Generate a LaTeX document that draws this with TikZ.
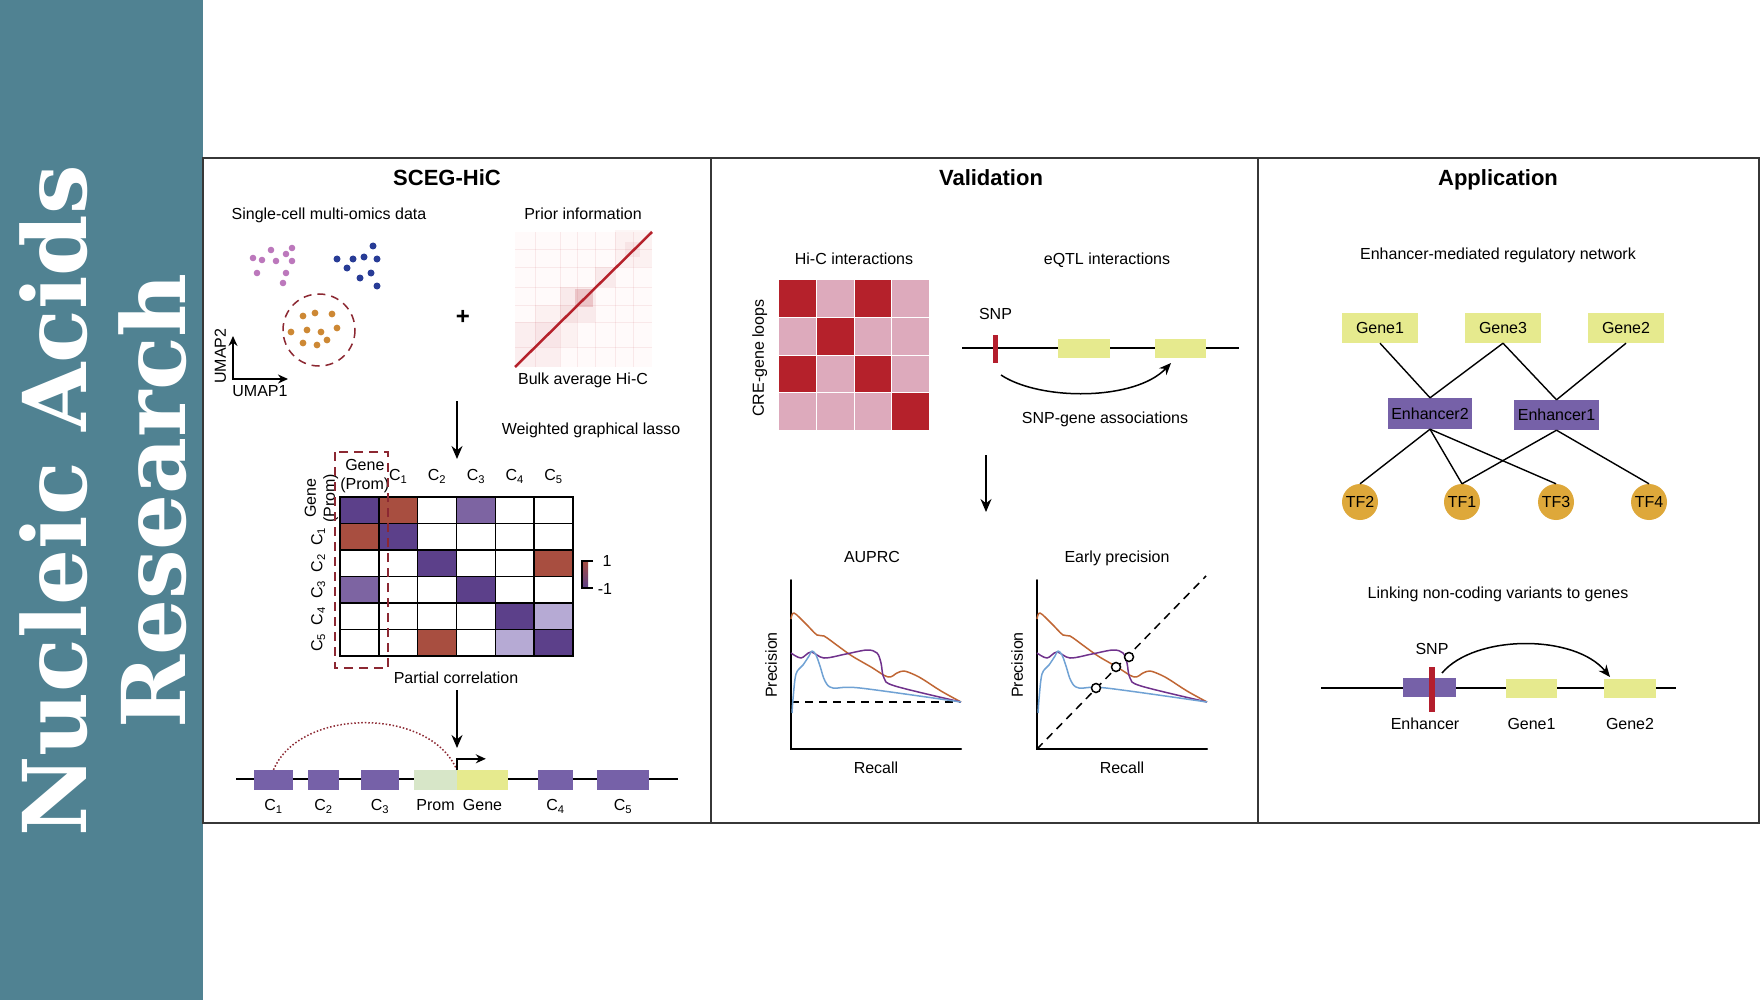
\documentclass[tikz,border=0pt]{standalone}
\usepackage{fontspec}
\setmainfont{Liberation Sans}
\newfontfamily\journalfont{DejaVu Serif}
\usetikzlibrary{arrows.meta,positioning}

\definecolor{sidebar}{RGB}{80,130,146}
\definecolor{framegray}{RGB}{55,55,55}
\definecolor{darkpurple}{RGB}{92,64,138}
\definecolor{midpurple}{RGB}{125,100,162}
\definecolor{lavender}{RGB}{182,170,212}
\definecolor{brickred}{RGB}{168,78,64}
\definecolor{crepurple}{RGB}{118,97,168}
\definecolor{geneyellow}{RGB}{230,234,142}
\definecolor{promgreen}{RGB}{215,230,200}
\definecolor{hicred}{RGB}{181,33,43}
\definecolor{hicpink}{RGB}{221,170,188}
\definecolor{snpred}{RGB}{180,30,45}
\definecolor{tfgold}{RGB}{222,168,58}
\definecolor{dotpink}{RGB}{188,120,188}
\definecolor{dotblue}{RGB}{40,60,150}
\definecolor{dotorange}{RGB}{205,136,52}
\definecolor{circred}{RGB}{140,40,50}
\definecolor{curveorange}{RGB}{192,102,52}
\definecolor{curvepurple}{RGB}{112,50,140}
\definecolor{curveblue}{RGB}{112,162,212}

\tikzset{
  txt/.style={font=\fontsize{16}{19}\selectfont, inner sep=0pt},
  lbl/.style={txt, text height=11.5pt, text depth=0pt},
  ttl/.style={font=\fontsize{22}{26}\selectfont\bfseries, inner sep=0pt, text height=15.8pt, text depth=0pt},
  trk/.style={inner sep=0pt, minimum height=20pt},
  gnode/.style={lbl, fill=geneyellow, minimum width=76pt, minimum height=30pt},
  enode/.style={lbl, fill=crepurple, minimum width=84pt, minimum height=31pt},
  tfnode/.style={lbl, circle, fill=tfgold, minimum size=36pt},
  link/.style={line width=1.4pt},
  flow/.style={-{Stealth[length=13pt,width=11pt]}, line width=1.5pt},
  axis/.style={line width=2pt, line cap=round},
  prline/.style={line width=1.5pt, line join=round},
}

% the three precision-recall curves, drawn in plot coordinates
\newcommand{\prcurves}{%
  \draw[prline, curveorange] plot[smooth, tension=0.55] coordinates {(0,130) (3,136) (15,125) (26,114) (33,113) (47,103) (61,93) (80,82) (97,72) (106,76) (113,78) (124,74) (133,69) (150,58) (170,47)};
  \draw[prline, curvepurple] plot[smooth, tension=0.55] coordinates {(0,96) (10,91) (20,97) (33,91) (55,95) (76,99) (86,96) (90,86) (93,71) (104,63) (170,47)};
  \draw[prline, curveblue] plot[smooth, tension=0.55] coordinates {(1,36) (2,50) (5,75) (12,84) (18,93) (21,98) (25,94) (29,83) (34,68) (42,61) (69,61) (170,47)};
}

\begin{document}
\begin{tikzpicture}[x=1pt, y=-1pt]
        \useasboundingbox (0,0) rectangle (1760,1000);
        \fill[white] (0,0) rectangle (1760,1000);

        % journal sidebar
        \fill[sidebar] (0,0) rectangle (203,1000);
        \node[white, rotate=90, inner sep=0pt, font=\journalfont\bfseries\fontsize{88}{90}\selectfont] (nar1) at (54,501) {Nucleic Acids};
        \node[white, rotate=90, inner sep=0pt, font=\journalfont\bfseries\fontsize{88}{90}\selectfont] (nar2) at (153,501) {Research};

        % panel frame
        \draw[framegray, line width=2pt] (203,158) rectangle (1759,823);
        \draw[framegray, line width=2pt] (711,158) -- (711,823);
        \draw[framegray, line width=2pt] (1258,158) -- (1258,823);

        \node[ttl] (t1) at (447,178) {SCEG-HiC};
        \node[ttl] (t2) at (991,178) {Validation};
        \node[ttl] (t3) at (1498,178) {Application};

        %%%%% SCEG-HiC
        \node[lbl] (scdata) at (329,214) {Single-cell multi-omics data};
        \node[lbl] (prior) at (583,214) {Prior information};

        \foreach \p in {(253,258),(262,260),(271,250),(276,261),(286,254),(292,248),(292,261),(257,273),(286,273),(283,283)}
            \fill[dotpink] \p circle (3.3);
        \foreach \p in {(373,246),(337,259),(353,259),(364,257),(377,259),(347,268),(371,273),(360,278),(377,286)}
            \fill[dotblue] \p circle (3.5);
        \draw[circred, line width=1.5pt, dash pattern=on 8pt off 6pt] (319,330) circle (36);
        \foreach \p in {(303,316),(315,313),(332,314),(291,332),(307,330),(321,332),(337,328),(303,343),(317,345),(327,340)}
            \fill[dotorange] \p circle (3.4);

        \coordinate (umo) at (233,379);
        \coordinate (umy) at (233,336);
        \coordinate (umx) at (288,379);
        \draw[line width=1.5pt, {Stealth[length=10pt,width=9pt]}-{Stealth[length=10pt,width=9pt]}] (umy) -- (umo) -- (umx);
        \node[lbl, rotate=90] (umap2) at (220,356) {UMAP2};
        \node[lbl] (umap1) at (260,391) {UMAP1};

        \node[font=\fontsize{24}{24}\selectfont\bfseries, inner sep=0pt] (plus) at (463,317) {+};

        % bulk Hi-C map
        \fill[red!2] (515,232) rectangle (652,367);
        \foreach \a/\b/\o in {0/45/0.05, 20/62/0.04, 45/80/0.07, 60/78/0.18, 80/100/0.07, 100/137/0.04, 110/125/0.06}
            \fill[hicred, opacity=\o] (515+\a,367-\a) rectangle (515+\b,367-\b);
        \foreach \t in {20,45,62,80,100,118}
            \draw[hicred, opacity=0.08, line width=0.8pt] (515+\t,232) -- (515+\t,367) (515,367-\t) -- (652,367-\t);
        \draw[hicred, line width=2.5pt] (515,367) -- (652,232);
        \node[lbl] (bulk) at (583,379) {Bulk average Hi-C};

        \coordinate (f1a) at (457,401);
        \coordinate (f1b) at (457,459);
        \draw[flow] (f1a) -- (f1b);
        \node[lbl] (wgl) at (591,429) {Weighted graphical lasso};

        % partial correlation matrix
        \begin{scope}[shift={(340,497)}, x=38.83pt, y=-26.5pt]
            \foreach \c/\r/\col in {0/0/darkpurple, 1/0/brickred, 3/0/midpurple, 0/1/brickred, 1/1/darkpurple,
                                    2/2/darkpurple, 5/2/brickred, 0/3/midpurple, 3/3/darkpurple, 4/4/darkpurple,
                                    5/4/lavender, 2/5/brickred, 4/5/lavender, 5/5/darkpurple}
                \fill[\col] (\c,\r) rectangle ++(1,1);
            \foreach \i in {0,...,6}
                \draw[line width=1.6pt, line cap=rect] (\i,0) -- (\i,6) (0,\i) -- (6,\i);
            \node[txt, align=center] (colg) at (0.64,-0.8) {Gene\\(Prom)};
            \node[txt, rotate=90, align=center] (rowg) at (-0.48,0.05) {Gene\\(Prom)};
            \foreach \i in {1,...,5} {
                \node[lbl] (col\i) at (\i+0.5,-0.83) {C\textsubscript{\i}};
                \node[lbl, rotate=90] (row\i) at (-0.6,\i+0.5) {C\textsubscript{\i}};
            }
        \end{scope}
        \draw[circred, line width=1.5pt, dash pattern=on 9pt off 6pt] (335,452) rectangle (388,668);

        % colour scale
        \shade[top color=brickred, middle color=white, bottom color=darkpurple] (582,561) rectangle (588,588);
        \draw[line width=1.2pt] (593,561) -- (582,561) -- (582,588) -- (593,588);
        \node[lbl] (cmax) at (607,561) {1};
        \node[lbl] (cmin) at (605,589) {-1};

        \node[lbl] (pcor) at (456,678) {Partial correlation};
        \coordinate (f2a) at (457,690);
        \coordinate (f2b) at (457,748);
        \draw[flow] (f2a) -- (f2b);

        % genome track
        \coordinate (trkL) at (236,779);
        \coordinate (trkR) at (678,779);
        \draw[line width=1.5pt] (trkL) -- (trkR);
        \node[trk, fill=crepurple, minimum width=39pt] (c1) at (273.5,780) {};
        \node[trk, fill=crepurple, minimum width=31pt] (c2) at (323.5,780) {};
        \node[trk, fill=crepurple, minimum width=38pt] (c3) at (380,780) {};
        \node[trk, fill=promgreen, minimum width=43pt] (prom) at (435.5,780) {};
        \node[trk, fill=geneyellow, minimum width=51pt] (gene) at (482.5,780) {};
        \node[trk, fill=crepurple, minimum width=35pt] (c4) at (555.5,780) {};
        \node[trk, fill=crepurple, minimum width=52pt] (c5) at (623,780) {};
        \foreach \n/\t in {c1/C\textsubscript{1}, c2/C\textsubscript{2}, c3/C\textsubscript{3}, c4/C\textsubscript{4}, c5/C\textsubscript{5}, prom/Prom, gene/Gene}
            \node[lbl, below=9pt of \n] (\n lab) {\t};
        \draw[circred, line width=1.5pt, dotted] (c1.north) .. controls (300,707) and (430,707) .. (gene.north west);
        \draw[line width=1.5pt, -{Stealth[length=10pt,width=9pt]}] (gene.north west) -- ++(0,-11) -- ++(29,0);

        %%%%% Validation
        \node[lbl] (hicint) at (854,259) {Hi-C interactions};
        \node[lbl] (eqtl) at (1107,259) {eQTL interactions};
        \begin{scope}[shift={(779,280)}, x=37.5pt, y=-37.5pt]
            \fill[hicpink] (0,0) rectangle (4,4);
            \foreach \c/\r in {0/0, 2/0, 1/1, 0/2, 2/2, 3/3}
                \fill[hicred] (\c,\r) rectangle ++(1,1);
            \foreach \i in {1,2,3}
                \draw[white, line width=1pt] (\i,0) -- (\i,4) (0,\i) -- (4,\i);
        \end{scope}
        \node[lbl, rotate=90] (loops) at (758,358) {CRE-gene loops};

        \coordinate (eqL) at (962,348);
        \coordinate (eqR) at (1239,348);
        \draw[line width=1.5pt] (eqL) -- (eqR);
        \node[trk, fill=geneyellow, minimum width=52pt, minimum height=19pt] (eg1) at (1084,348.5) {};
        \node[trk, fill=geneyellow, minimum width=51pt, minimum height=19pt] (eg2) at (1180.5,348.5) {};
        \node[inner sep=0pt, fill=snpred, minimum width=5pt, minimum height=28pt] (snp) at (995.5,349) {};
        \node[lbl, above=15pt of snp] (snplab) {SNP};
        \coordinate (assocA) at (1001,375);
        \coordinate (assocB) at (1171,363);
        \draw[line width=1.5pt, -{Stealth[length=12pt,width=10pt]}] (assocA) .. controls (1040,401) and (1135,401) .. (assocB);
        \node[lbl] (assoc) at (1105,418) {SNP-gene associations};

        \coordinate (f3a) at (986,455);
        \coordinate (f3b) at (986,512);
        \draw[flow] (f3a) -- (f3b);

        % precision-recall plots
        \node[lbl] (auprc) at (872,557) {AUPRC};
        \node[lbl] (early) at (1117,557) {Early precision};
        \coordinate (p1o) at (791,749);
        \coordinate (p1y) at (791,580);
        \coordinate (p1x) at (961,749);
        \draw[axis] (p1y) -- (p1o) -- (p1x);
        \begin{scope}[shift={(791,749)}, y=1pt]
            \draw[line width=1.5pt, dash pattern=on 8pt off 6pt] (0,47) -- (170,47);
            \prcurves
        \end{scope}
        \node[lbl, rotate=90] (prec1) at (771,665) {Precision};
        \node[lbl] (rec1) at (876,768) {Recall};

        \coordinate (p2o) at (1037,749);
        \coordinate (p2y) at (1037,580);
        \coordinate (p2x) at (1207,749);
        \draw[axis] (p2y) -- (p2o) -- (p2x);
        \begin{scope}[shift={(1037,749)}, y=1pt]
            \draw[line width=1.5pt, dash pattern=on 8pt off 6pt] (0,0) -- (169,173);
            \prcurves
            \foreach \p in {(59,61),(79,82),(92,92)}
                \draw[line width=1.5pt, fill=white] \p circle (4.5);
        \end{scope}
        \node[lbl, rotate=90] (prec2) at (1017,665) {Precision};
        \node[lbl] (rec2) at (1122,768) {Recall};

        %%%%% Application
        \node[lbl] (netttl) at (1498,254) {Enhancer-mediated regulatory network};
        \node[gnode] (gene1) at (1380,328) {Gene1};
        \node[gnode] (gene3) at (1503,328) {Gene3};
        \node[gnode] (gene2) at (1626,328) {Gene2};
        \node[enode] (enh2) at (1430,413.5) {Enhancer2};
        \node[enode, minimum width=85pt, minimum height=30pt] (enh1) at (1556.5,415) {Enhancer1};
        \node[tfnode] (tf2) at (1360,502) {TF2};
        \node[tfnode] (tf1) at (1462,502) {TF1};
        \node[tfnode] (tf3) at (1556,502) {TF3};
        \node[tfnode] (tf4) at (1649,502) {TF4};

        \draw[link] (gene1.south) -- (enh2.north);
        \draw[link] (gene3.south) -- (enh2.north);
        \draw[link] (gene3.south) -- (enh1.north);
        \draw[link] (gene2.south) -- (enh1.north);
        \draw[link] (enh2.south) -- (tf2.north);
        \draw[link] (enh2.south) -- (tf1.north);
        \draw[link] (enh2.south) -- (tf3.north);
        \draw[link] (enh1.south) -- (tf1.north);
        \draw[link] (enh1.south) -- (tf4.north);

        \node[lbl] (linkttl) at (1498,593) {Linking non-coding variants to genes};
        \coordinate (lkL) at (1321,688);
        \coordinate (lkR) at (1676,688);
        \draw[line width=1.5pt] (lkL) -- (lkR);
        \node[trk, fill=crepurple, minimum width=53pt, minimum height=19pt] (lenh) at (1429.5,687.5) {};
        \node[trk, fill=geneyellow, minimum width=51pt, minimum height=19pt] (lg1) at (1531.5,688.5) {};
        \node[trk, fill=geneyellow, minimum width=52pt, minimum height=19pt] (lg2) at (1630,688.5) {};
        \node[inner sep=0pt, fill=snpred, minimum width=6pt, minimum height=45pt] (lsnp) at (1432,689.5) {};
        \node[lbl, above=12pt of lsnp] (lsnplab) {SNP};
        \node[lbl] (lenhlab) at (1425,724) {Enhancer};
        \node[lbl, below=20pt of lg1] (lg1lab) {Gene1};
        \node[lbl, below=20pt of lg2] (lg2lab) {Gene2};
        \coordinate (lkA) at (1442,673);
        \coordinate (lkB) at (1610,677);
        \draw[line width=1.5pt, -{Stealth[length=12pt,width=10pt]}] (lkA) .. controls (1475,634) and (1575,634) .. (lkB);
\end{tikzpicture}
\end{document}
